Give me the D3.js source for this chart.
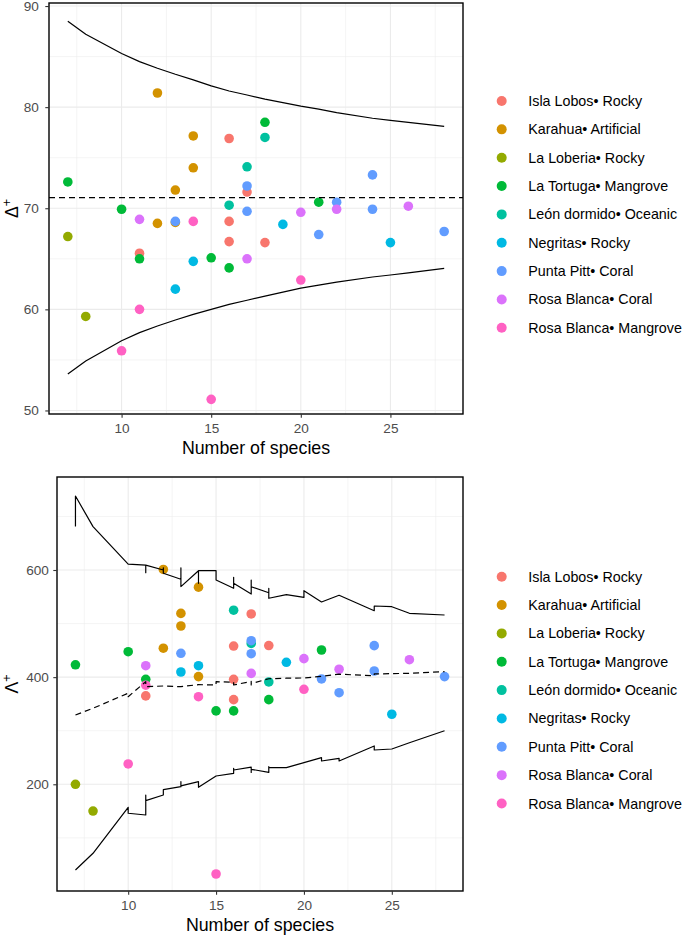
<!DOCTYPE html>
<html><head><meta charset="utf-8">
<script src="https://cdn.jsdelivr.net/npm/d3@7"></script>
<style>
body{margin:0;background:#fff}
svg{display:block}
text{font-family:"Liberation Sans",Arial,Helvetica,sans-serif}
</style>
</head><body><svg id="c" width="685" height="935"></svg>
<script>
// ---------- data ----------
const sites = ["Isla Lobos\u2022 Rocky","Karahua\u2022 Artificial","La Loberia\u2022 Rocky","La Tortuga\u2022 Mangrove","Le\u00f3n dormido\u2022 Oceanic","Negritas\u2022 Rocky","Punta Pitt\u2022 Coral","Rosa Blanca\u2022 Coral","Rosa Blanca\u2022 Mangrove"];
const siteColors = ["#F8766D","#D39200","#93AA00","#00BA38","#00C19F","#00B9E3","#619CFF","#DB72FB","#FF61C3"];

const ptSite    = [0,0,0,0,0,0, 1,1,1,1,1,1, 2,2, 3,3,3,3,3,3,3, 4,4,4, 5,5,5,5, 6,6,6,6,6,6,6,6, 7,7,7,7,7, 8,8,8,8,8];
const ptSpecies = [11,16,16,16,17,18, 12,12,13,13,14,14, 7,8, 7,10,11,15,16,18,21, 16,17,18, 13,14,19,25, 13,17,17,21,22,24,24,28, 11,17,20,22,26, 10,11,14,15,20];
const ptDelta   = [65.55,76.9,68.7,66.7,71.6,66.6, 81.4,68.5,71.8,68.6,77.15,74.0, 67.2,59.3, 72.6,69.9,65.0,65.1,64.1,78.5,70.6, 70.3,74.1,77.0, 62.0,64.75,68.4,66.6, 68.7,72.2,69.7,67.4,70.6,73.3,69.9,67.7, 68.9,65.0,69.6,69.9,70.2, 55.9,60.0,68.7,51.1,62.9];
const ptLambda  = [365,458,396,358,518,459, 601,454,519,495.5,568,401, 200,150, 423,447.5,396,337,337,358,450.7, 525,463,391, 409.6,421.4,427.7,330.7, 444.5,468,443.8,396.6,371,458.8,411.5,401, 421.4,407,434.5,414.7,432.6, 238,385,363.5,32.5,377.3];

const xTicks = [10,15,20,25];
const deltaTicks = [50,60,70,80,90];
const lambdaTicks = [200,400,600];

const deltaMean = 71.05;
const deltaCurveX = [7,8,10,11,12,13,14,15,16,17,18,19,20,21,22,24,25,26,28];
const deltaUpper  = [88.5,87.2,85.3,84.5,83.85,83.25,82.7,82.1,81.6,81.2,80.8,80.45,80.1,79.8,79.45,78.9,78.7,78.5,78.1];
const deltaLower  = [53.6,54.9,56.9,57.7,58.35,58.95,59.5,60.0,60.5,60.9,61.3,61.7,62.1,62.4,62.7,63.2,63.4,63.6,64.05];

const lambdaUpperX = [7,7,8,10,11,11,11,12,12,12,13,13,13,14,14,14,15,15,16,16,16,17,17,17,18,18,18,19,20,20,21,22,24,24,25,26,28];
const lambdaUpperY = [681,738,681,611,609,595,609,600,604,594,582.7,604,569,598.7,575.2,598.7,598.7,581.4,565.8,586.4,575.2,555.2,581.3,568.8,557.6,565.8,547.2,553.9,549,561.4,540.3,552.8,524,532.8,531.5,519.2,516];
const lambdaLowerX = [7,8,10,10,11,11,11,12,12,13,13,13,14,14,15,16,16,16,17,17,17,18,18,18,19,20,21,21,22,22,24,24,25,26,28];
const lambdaLowerY = [40,71.2,157.1,145.9,142.7,180,169.4,180,190,195.5,204.9,197,204.9,194.4,215.5,220.5,229.9,226.7,232,222,228,222.4,232.9,231,231,240.3,249.7,243.5,248.5,243.5,271.5,264,265.9,277.6,300];
const lambdaMeanX  = [7,8,10,10,11,11,12,13,14,15,15,16,16,17,17,17,18,19,20,21,22,24,24,25,26,28];
const lambdaMeanY  = [329.4,341.9,370,363.5,391.5,382.2,383.5,382.2,386,385.4,391.5,390.4,385.4,392,385.5,388,397,398,398.5,401.5,405.5,402.5,406,406.5,407.2,410.2];

// ---------- drawing ----------
const svg = d3.select("#c");
svg.append("rect").attr("width",685).attr("height",935).attr("fill","#fff");
const FONT = '"Liberation Sans",Arial,Helvetica,sans-serif';

function drawPanel(cfg){
  const g = svg.append("g");
  const x = d3.scaleLinear().domain([5.95,29.05]).range([cfg.left,cfg.right]);
  const y = d3.scaleLinear().domain(cfg.yDomain).range([cfg.bottom,cfg.top]);
  // grid
  const minorX = [7.5,12.5,17.5,22.5,27.5];
  g.selectAll(".gmx").data(minorX).join("line")
    .attr("x1",d=>x(d)).attr("x2",d=>x(d)).attr("y1",cfg.top).attr("y2",cfg.bottom)
    .attr("stroke","#EBEBEB").attr("stroke-width",0.55);
  g.selectAll(".gmy").data(cfg.yMinor).join("line")
    .attr("y1",d=>y(d)).attr("y2",d=>y(d)).attr("x1",cfg.left).attr("x2",cfg.right)
    .attr("stroke","#EBEBEB").attr("stroke-width",0.55);
  g.selectAll(".gMx").data(xTicks).join("line")
    .attr("x1",d=>x(d)).attr("x2",d=>x(d)).attr("y1",cfg.top).attr("y2",cfg.bottom)
    .attr("stroke","#EBEBEB").attr("stroke-width",1.1);
  g.selectAll(".gMy").data(cfg.yTicks).join("line")
    .attr("y1",d=>y(d)).attr("y2",d=>y(d)).attr("x1",cfg.left).attr("x2",cfg.right)
    .attr("stroke","#EBEBEB").attr("stroke-width",1.1);

  // points
  const pts = ptSite.map((s,i)=>({s, x:ptSpecies[i], v:cfg.values[i]}));
  g.selectAll(".pt").data(pts).join("circle")
    .attr("cx",d=>x(d.x)).attr("cy",d=>y(d.v)).attr("r",4.8)
    .attr("fill",d=>siteColors[d.s]);

  // lines
  const line = d3.line().x(d=>x(d[0])).y(d=>y(d[1]));
  cfg.lines.forEach(L=>{
    g.append("path").datum(L.xs.map((xv,i)=>[xv,L.ys[i]]))
      .attr("d",line).attr("fill","none").attr("stroke","#000")
      .attr("stroke-width",1.2).attr("stroke-linejoin","round")
      .attr("stroke-dasharray",L.dash?"6,4":null);
  });
  if(cfg.hline!==undefined){
    g.append("line").attr("x1",cfg.left).attr("x2",cfg.right)
      .attr("y1",y(cfg.hline)).attr("y2",y(cfg.hline))
      .attr("stroke","#000").attr("stroke-width",1.2).attr("stroke-dasharray","6,4");
  }
  // border
  g.append("rect").attr("x",cfg.left).attr("y",cfg.top)
    .attr("width",cfg.right-cfg.left).attr("height",cfg.bottom-cfg.top)
    .attr("fill","none").attr("stroke","#000").attr("stroke-width",1.4);

  // axes
  const ax = g.append("g").attr("transform",`translate(0,${cfg.bottom})`)
    .call(d3.axisBottom(x).tickValues(xTicks).tickSize(3.7).tickPadding(6).tickFormat(d3.format("d")));
  const ay = g.append("g").attr("transform",`translate(${cfg.left},0)`)
    .call(d3.axisLeft(y).tickValues(cfg.yTicks).tickSize(3.7).tickPadding(cfg.yPad).tickFormat(d3.format("d")));
  [ax,ay].forEach(a=>{
    a.select(".domain").remove();
    a.selectAll(".tick line").attr("stroke","#333").attr("stroke-width",1.1);
    a.selectAll(".tick text").attr("fill","#4D4D4D").style("font-size","13.6px")
      .style("font-family",FONT);
  });

  // titles
  g.append("text").attr("x",(cfg.left+cfg.right)/2).attr("y",cfg.bottom+39.5)
    .attr("text-anchor","middle").style("font-size","17.8px").attr("fill","#000")
    .text("Number of species");
  const yl = g.append("text")
    .attr("transform",`translate(${cfg.ylabX},${(cfg.top+cfg.bottom)/2}) rotate(-90)`)
    .attr("text-anchor","middle").style("font-size","17.8px").attr("fill","#000");
  yl.append("tspan").text(cfg.ylab);
  yl.append("tspan").attr("dy",-7).style("font-size","12.5px").text("+");

  // legend
  const lg = g.append("g");
  sites.forEach((s,i)=>{
    const cy = cfg.legendTop + i*28.35;
    lg.append("circle").attr("cx",501.7).attr("cy",cy).attr("r",5).attr("fill",siteColors[i]);
    lg.append("text").attr("x",528.3).attr("y",cy+5).style("font-size","14.3px").attr("fill","#000").text(s);
  });
}

drawPanel({
  left:49, right:463, top:3, bottom:414,
  yDomain:[49.65,90.3], yTicks:deltaTicks, yMinor:[55,65,75,85], yPad:6.5,
  values:ptDelta,
  lines:[{xs:deltaCurveX, ys:deltaUpper},{xs:deltaCurveX, ys:deltaLower}],
  hline:deltaMean, ylab:"\u0394", ylabX:18, legendTop:101
});
drawPanel({
  left:57, right:463, top:477, bottom:891,
  yDomain:[0.8,773.6], yTicks:lambdaTicks, yMinor:[100,300,500,700], yPad:4.5,
  values:ptLambda,
  lines:[{xs:lambdaUpperX, ys:lambdaUpperY},{xs:lambdaLowerX, ys:lambdaLowerY},{xs:lambdaMeanX, ys:lambdaMeanY, dash:true}],
  ylab:"\u039B", ylabX:18, legendTop:576.7
});
</script>
</body></html>
